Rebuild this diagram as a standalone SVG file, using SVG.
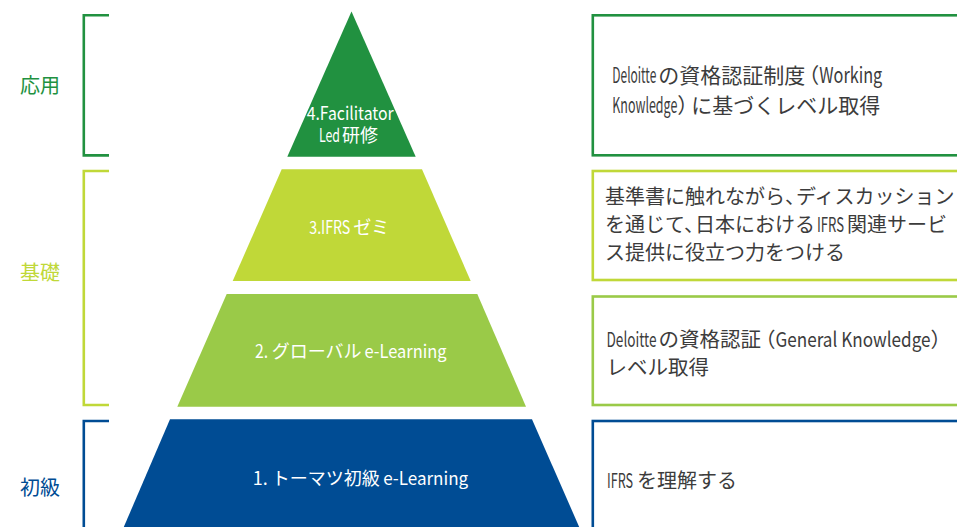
<svg xmlns="http://www.w3.org/2000/svg" width="957" height="527" viewBox="0 0 957 527">
<style>
text{font-family:"Noto Sans CJK JP","Noto Sans",sans-serif}
.lab{font-size:20px}
.pyr{font-size:18px;fill:#ffffff}
.desc{fill:#3c3c3c}
.brk{fill:none;stroke-width:2.6}
.box{fill:#ffffff;stroke-width:2.6}
.c4{fill:#219140}.s4{stroke:#219140}
.c3{fill:#C0D838}.s3{stroke:#C0D838}
.c2{fill:#9ACA48}.s2{stroke:#9ACA48}
.c1{fill:#004C94}.s1{stroke:#004C94}
</style>
<rect width="957" height="527" fill="#ffffff"/>

<g id="bracket-oyo">
<path class="brk s4" d="M109,15.3 H83.8 V155.4 H109"/>
<text class="lab c4" x="20" y="92.5">応用</text>
</g>
<g id="bracket-kiso">
<path class="brk s3" d="M109,171 H83.8 V405 H109"/>
<text class="lab c3" x="20" y="280">基礎</text>
</g>
<g id="bracket-shokyu">
<path class="brk s1" d="M109,421 H83.8 V540"/>
<text class="lab c1" x="20" y="495">初級</text>
</g>

<g id="tier4">
<polygon class="c4" points="351.5,11.5 415.7,156.7 287.3,156.7"/>
<text class="pyr" x="306.7" y="120"><tspan textLength="87" lengthAdjust="spacingAndGlyphs">4.Facilitator</tspan></text>
<text class="pyr" x="319" y="142"><tspan textLength="21" lengthAdjust="spacingAndGlyphs">Led</tspan><tspan dx="2">研修</tspan></text>
</g>
<g id="tier3">
<polygon class="c3" points="281.7,169.3 422,169.3 470.7,281 232.7,281"/>
<text class="pyr" x="309.3" y="233.5"><tspan textLength="41" lengthAdjust="spacingAndGlyphs">3.IFRS</tspan><tspan dx="3">ゼミ</tspan></text>
</g>
<g id="tier2">
<polygon class="c2" points="226.7,294 477.3,294 526,406.7 177.3,406.7"/>
<text class="pyr" x="255" y="357.5"><tspan textLength="16.7" lengthAdjust="spacingAndGlyphs">2. </tspan><tspan>グローバル</tspan><tspan dx="3" textLength="82" lengthAdjust="spacingAndGlyphs">e-Learning</tspan></text>
</g>
<g id="tier1">
<polygon class="c1" points="170,419.3 532,419.3 580.5,530 122.5,530"/>
<text class="pyr" x="252.7" y="484.5"><tspan textLength="19" lengthAdjust="spacingAndGlyphs">1. </tspan><tspan>トーマツ初級</tspan><tspan dx="3.5" textLength="85" lengthAdjust="spacingAndGlyphs">e-Learning</tspan></text>
</g>

<g id="desc4">
<rect class="box s4" x="592.8" y="15.3" width="400" height="140"/>
<text class="desc" font-size="21" x="612.3" y="83"><tspan textLength="44" lengthAdjust="spacingAndGlyphs">Deloitte</tspan><tspan dx="2">の資格認証制度</tspan><tspan dx="-7">（</tspan><tspan textLength="63" lengthAdjust="spacingAndGlyphs">Working</tspan></text>
<text class="desc" font-size="21" x="612.3" y="112.5"><tspan textLength="65" lengthAdjust="spacingAndGlyphs">Knowledge</tspan><tspan>）</tspan><tspan dx="-7">に基づくレベル取得</tspan></text>
</g>
<g id="desc3">
<rect class="box s3" x="592.8" y="171" width="400" height="109"/>
<text class="desc" font-size="20" x="605" y="204"><tspan>基準書に触れながら、</tspan><tspan dx="-9">ディスカッション</tspan></text>
<text class="desc" font-size="20" x="605" y="232"><tspan>を通じて、</tspan><tspan dx="-9">日本における</tspan><tspan dx="2" textLength="27" lengthAdjust="spacingAndGlyphs">IFRS</tspan><tspan dx="3">関連サービ</tspan></text>
<text class="desc" font-size="20" x="605" y="260">ス提供に役立つ力をつける</text>
</g>
<g id="desc2">
<rect class="box s2" x="592.8" y="296.5" width="400" height="108.5"/>
<text class="desc" font-size="20.5" x="606.5" y="346.5"><tspan textLength="50" lengthAdjust="spacingAndGlyphs">Deloitte</tspan><tspan dx="2">の資格認証</tspan><tspan dx="-6">（</tspan><tspan textLength="155" lengthAdjust="spacingAndGlyphs">General Knowledge</tspan><tspan>）</tspan></text>
<text class="desc" font-size="20.5" x="606.5" y="374.5">レベル取得</text>
</g>
<g id="desc1">
<rect class="box s1" x="592.8" y="421" width="400" height="130"/>
<text class="desc" font-size="20" x="607" y="487.5"><tspan textLength="26" lengthAdjust="spacingAndGlyphs">IFRS</tspan><tspan dx="4">を理解する</tspan></text>
</g>
</svg>
